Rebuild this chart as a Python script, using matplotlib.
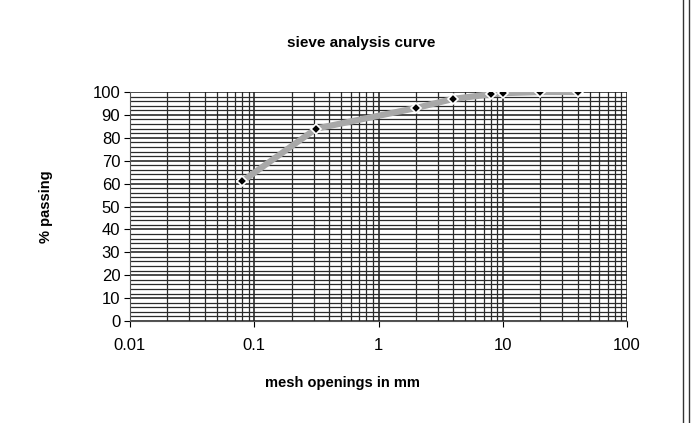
import matplotlib.pyplot as plt
from matplotlib.ticker import FixedLocator, MultipleLocator, NullFormatter
from matplotlib.lines import Line2D

# sieve sizes (mm) and cumulative percent passing
mesh_mm = [0.08, 0.315, 2.0, 4.0, 8.0, 10.0, 20.0, 40.0]
passing = [61, 84, 93, 97, 99, 99.5, 100, 100]

x_ticks = [0.01, 0.1, 1, 10, 100]
x_tick_labels = ["0.01", "0.1", "1", "10", "100"]
y_ticks = list(range(0, 101, 10))

plt.rcParams['font.family'] = ['Liberation Sans', 'DejaVu Sans']

fig = plt.figure(figsize=(6.94, 4.23), dpi=100)
ax = fig.add_axes([0.1873, 0.2411, 0.7162, 0.5414])

ax.set_xscale('log')
ax.set_xlim(0.01, 100)
ax.set_ylim(0, 100)

ax.set_xticks(x_ticks)
ax.set_xticklabels(x_tick_labels)
minor_x = [m * 10.0 ** e for e in range(-2, 2) for m in range(2, 10)]
ax.xaxis.set_minor_locator(FixedLocator(minor_x))
ax.xaxis.set_minor_formatter(NullFormatter())
ax.set_yticks(y_ticks)
ax.yaxis.set_minor_locator(MultipleLocator(2))

ax.grid(True, which='major', color='#1a1a1a', linewidth=1.1)
ax.grid(True, which='minor', color='#2a2a2a', linewidth=0.9)
ax.set_axisbelow(True)

ax.tick_params(which='major', direction='out', length=4, width=0.8,
               labelsize=12, colors='black', pad=3)
ax.tick_params(which='minor', length=0)
ax.tick_params(axis='x', pad=8)

for side in ['top', 'right']:
    ax.spines[side].set_visible(False)
for side in ['left', 'bottom']:
    ax.spines[side].set_color('#555555')

ax.plot(mesh_mm, passing, color='#a8a8a8', linewidth=4.5, zorder=3,
        marker='D', markersize=5, markerfacecolor='black',
        markeredgecolor='white', markeredgewidth=1.2)

fig.text(0.5205, 0.898, "sieve analysis curve", ha='center', va='center',
         fontsize=11, fontweight='bold')
fig.text(0.493, 0.095, "mesh openings in mm", ha='center', va='center',
         fontsize=10.5, fontweight='bold')
fig.text(0.066, 0.512, "% passing", ha='center', va='center',
         fontsize=10.5, fontweight='bold', rotation=90)

# double frame line on the right edge
fig.add_artist(Line2D([0.984, 0.984], [0.0, 1.0], transform=fig.transFigure,
                      color='#333333', linewidth=1.0))
fig.add_artist(Line2D([0.993, 0.993], [0.0, 1.0], transform=fig.transFigure,
                      color='#333333', linewidth=1.0))

fig.savefig('out.png', dpi=100, facecolor='white')
